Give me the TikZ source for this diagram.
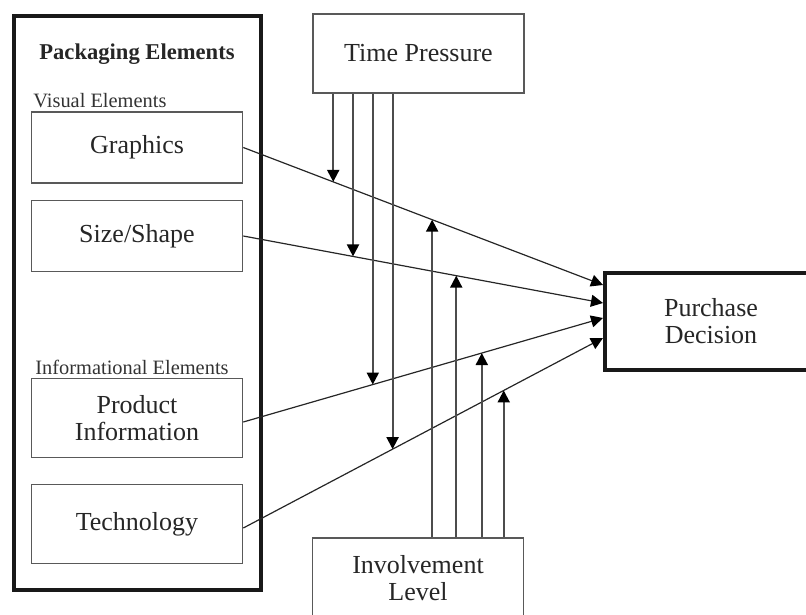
\documentclass[tikz,border=0pt]{standalone}
\usepackage{fontspec}
\setmainfont{Liberation Serif}
\usetikzlibrary{arrows.meta}

\begin{document}
\begin{tikzpicture}[x=0.5pt,y=-0.5pt,->,>={Triangle[length=6pt,width=6pt,color=black]},thin]
            \tikzset{box/.style={draw=black!65, line width=0.8pt, minimum width=105.5pt, minimum height=35.5pt, inner sep=0pt, align=center, text=black!85, font=\fontsize{13}{13.5}\selectfont}}
            \tikzset{bigbox/.style={box, draw=black!90, line width=2pt}}
            \tikzset{caption/.style={anchor=west, inner sep=0pt, text=black!80, font=\fontsize{10.2}{11}\selectfont}}
            \tikzset{link/.style={->, draw=black!85, line width=0.6pt}}
            \tikzset{mod/.style={->, draw=black!70, line width=1pt}}
            \useasboundingbox (0,0) rectangle (806,614);
            \clip (0,0) rectangle (806,614);
            % packaging elements
            \node[bigbox, minimum width=123.5pt, minimum height=287pt] (P) at (137.5,303) {};
            \node[text=black!85, font=\fontsize{11.3}{12}\selectfont\bfseries] (title) at (137,54) {Packaging Elements};
            \node[caption] (vis) at (33,101) {Visual Elements};
            \node[box] (G) at (137,147.5) {Graphics};
            \node[box] (S) at (137,236) {Size/Shape};
            \node[caption] (inf) at (35,367) {Informational Elements};
            \node[box, minimum height=39.5pt] (PI) at (137,418) {Product\\Information};
            \node[box, minimum height=39.5pt] (Te) at (137,524) {Technology};
            % moderators and outcome
            \node[box, minimum height=39.5pt] (T) at (418.5,53.5) {Time Pressure};
            \node[box, minimum height=40pt] (I) at (418,578) {Involvement\\Level};
            \node[bigbox, minimum width=106pt, minimum height=48.5pt] (D) at (711,321.5) {Purchase\\Decision};
            % main effects
            \draw[link] (G.east) -- ([yshift=18.25pt]D.west) coordinate[pos=0.25] (t1) coordinate[pos=0.525] (u1);
            \draw[link] (S.east) -- ([yshift=9.25pt]D.west) coordinate[pos=0.305] (t2) coordinate[pos=0.592] (u2);
            \draw[link] ([yshift=-2pt]PI.east) -- ([yshift=1.75pt]D.west) coordinate[pos=0.36] (t3) coordinate[pos=0.663] (u3);
            \draw[link] ([yshift=-2pt]Te.east) -- ([yshift=-8.25pt]D.west) coordinate[pos=0.415] (t4) coordinate[pos=0.724] (u4);
            % time pressure
            \draw[mod] (t1 |- T.south) -- (t1);
            \draw[mod] (t2 |- T.south) -- (t2);
            \draw[mod] (t3 |- T.south) -- (t3);
            \draw[mod] (t4 |- T.south) -- (t4);
            % involvement
            \draw[mod] (u1 |- I.north) -- (u1);
            \draw[mod] (u2 |- I.north) -- (u2);
            \draw[mod] (u3 |- I.north) -- (u3);
            \draw[mod] (u4 |- I.north) -- (u4);
        \end{tikzpicture}
\end{document}
